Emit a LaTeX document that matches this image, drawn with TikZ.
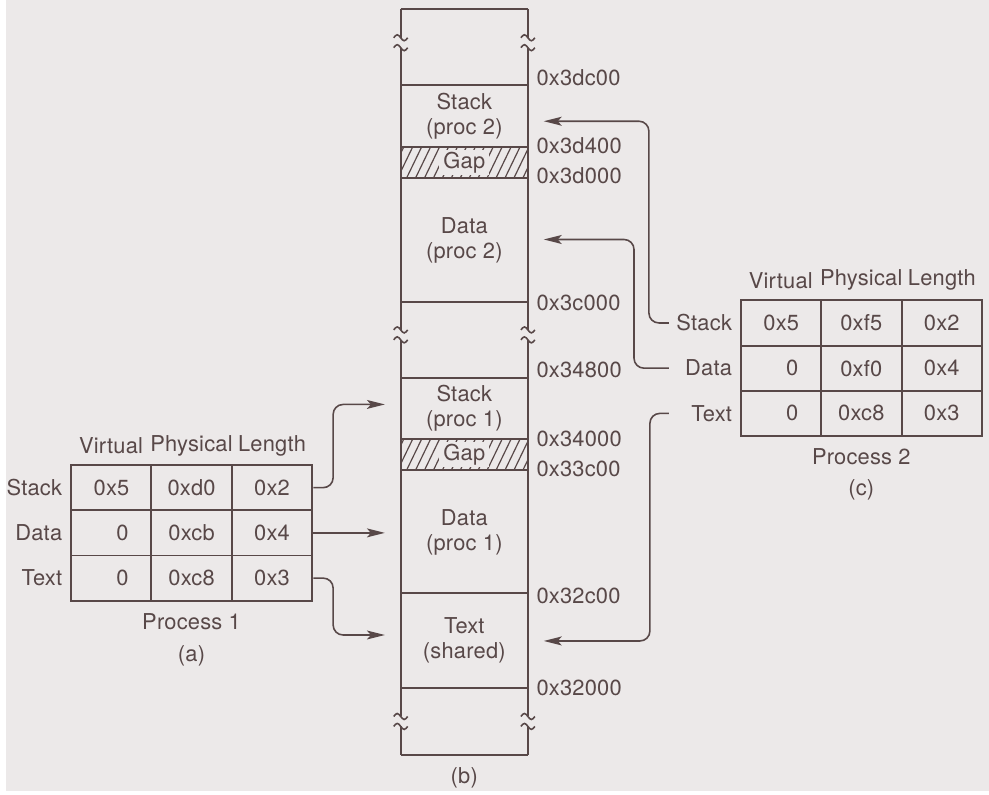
\documentclass[tikz,border=0pt]{standalone}
\usepackage{fontspec}
\setmainfont{TeX Gyre Heros}[LetterSpace=1]
\usetikzlibrary{arrows.meta}
\definecolor{ink}{RGB}{88,72,72}
\definecolor{paper}{RGB}{236,233,233}

\begin{document}
\begin{tikzpicture}[x=0.5pt, y=-0.5pt, color=ink, line width=1pt,
	every node/.style={font=\fontsize{11}{12.5}\selectfont, text=ink},
	cell/.style={draw, minimum width=40.5pt, minimum height=22.75pt, inner sep=0pt},
	vcell/.style={cell, text width=17.5pt, align=right, inner xsep=11.5pt},
	seg/.style={align=center},
	addr/.style={anchor=west},
	conn/.style={line width=0.8pt, rounded corners=5pt, -{Stealth[length=9pt,width=4.5pt,inset=2pt]}},
	hatch/.style={line width=0.6pt}]
	
	% Paper
	\fill[paper] (0,0) rectangle (989,796);
	
	% Gaps (hatched)
	\foreach \t/\b in {148/179,442/473} {
		\begin{scope}
			\clip (397,\t) rectangle (525,\b);
			\foreach \x in {376,385,...,530}
			\draw[hatch] (\x,\b) -- (\x+15,\t);
		\end{scope}
	}
	\node[fill=paper, inner xsep=2pt, inner ysep=1pt] (gap2) at (461,163.5) {Gap};
	\node[fill=paper, inner xsep=2pt, inner ysep=1pt] (gap1) at (461,457.5) {Gap};
	
	% Memory column
	\draw (397,9) -- (525,9);
	\draw (397,760) -- (525,760);
	\draw (397,9) -- (397,760);
	\draw (525,9) -- (525,760);
	\foreach \y in {86,148,179,304,380,442,473,597,692}
	\draw (397,\y) -- (525,\y);
	
	% Breaks
	\foreach \y in {43,337,726}
	\foreach \x in {397,525} {
		\fill[paper] (\x-3,\y-5) rectangle (\x+3,\y+5);
		\draw[line width=0.8pt] (\x-7,\y-5) sin (\x-3.5,\y-8) cos (\x,\y-5) sin (\x+3.5,\y-2) cos (\x+7,\y-5);
		\draw[line width=0.8pt] (\x-7,\y+5) sin (\x-3.5,\y+2) cos (\x,\y+5) sin (\x+3.5,\y+8) cos (\x+7,\y+5);
	}
	
	% Segments
	\node[seg] (stk2) at (461,117) {Stack\\(proc 2)};
	\node[seg] (dat2) at (461,242) {Data\\(proc 2)};
	\node[seg] (stk1) at (461,411) {Stack\\(proc 1)};
	\node[seg] (dat1) at (461,536) {Data\\(proc 1)};
	\node[seg] (txt) at (461,644) {Text\\(shared)};
	\node (cap-b) at (461,783) {(b)};
	
	% Addresses
	\node[addr] (a3dc00) at (526,78) {0x3dc00};
	\node[addr] (a3d400) at (526,147) {0x3d400};
	\node[addr] (a3d000) at (526,177) {0x3d000};
	\node[addr] (a3c000) at (526,305) {0x3c000};
	\node[addr] (a34800) at (526,372) {0x34800};
	\node[addr] (a34000) at (526,442) {0x34000};
	\node[addr] (a33c00) at (526,472) {0x33c00};
	\node[addr] (a32c00) at (526,600) {0x32c00};
	\node[addr] (a32000) at (526,692) {0x32000};
	
	% Process 1 table
	\node (p1-hv) at (105.5,449) {Virtual};
	\node (p1-hp) at (186.5,449) {Physical};
	\node (p1-hl) at (267.5,449) {Length};
	
	\node[vcell] (p1-sv) at (105.5,490.75) {0x5};
	\node[cell] (p1-sp) at (186.5,490.75) {0xd0};
	\node[cell] (p1-sl) at (267.5,490.75) {0x2};
	\node[vcell] (p1-dv) at (105.5,536.25) {0};
	\node[cell] (p1-dp) at (186.5,536.25) {0xcb};
	\node[cell] (p1-dl) at (267.5,536.25) {0x4};
	\node[vcell] (p1-tv) at (105.5,581.75) {0};
	\node[cell] (p1-tp) at (186.5,581.75) {0xc8};
	\node[cell] (p1-tl) at (267.5,581.75) {0x3};
	
	\node[anchor=east] (p1-s) at (p1-sv.west) {Stack};
	\node[anchor=east] (p1-d) at (p1-dv.west) {Data};
	\node[anchor=east] (p1-t) at (p1-tv.west) {Text};
	
	\node (p1) at (186.5,626) {Process 1};
	\node (cap-a) at (186.5,660) {(a)};
	
	% Process 2 table
	\node (p2-hv) at (779.5,282) {Virtual};
	\node (p2-hp) at (860.5,282) {Physical};
	\node (p2-hl) at (941.5,282) {Length};
	
	\node[vcell] (p2-sv) at (779.5,325) {0x5};
	\node[cell] (p2-sp) at (860.5,325) {0xf5};
	\node[cell] (p2-sl) at (941.5,325) {0x2};
	\node[vcell] (p2-dv) at (779.5,370.5) {0};
	\node[cell] (p2-dp) at (860.5,370.5) {0xf0};
	\node[cell] (p2-dl) at (941.5,370.5) {0x4};
	\node[vcell] (p2-tv) at (779.5,416) {0};
	\node[cell] (p2-tp) at (860.5,416) {0xc8};
	\node[cell] (p2-tl) at (941.5,416) {0x3};
	
	\node[anchor=east] (p2-s) at (p2-sv.west) {Stack};
	\node[anchor=east] (p2-d) at (p2-dv.west) {Data};
	\node[anchor=east] (p2-t) at (p2-tv.west) {Text};
	
	\node (p2) at (860.5,460) {Process 2};
	\node (cap-c) at (860.5,493) {(c)};
	
	% Arrow ends at the column
	\coordinate (in-s1) at (381,407);
	\coordinate (in-d1) at (381,536.25);
	\coordinate (in-t1) at (381,639);
	\coordinate (in-s2) at (541,122);
	\coordinate (in-d2) at (541,241);
	\coordinate (in-t2) at (541,645);
	
	% Mappings
	\draw[conn] (p1-sl.east) -- ++(20,0) |- (in-s1);
	\draw[conn] (p1-dl.east) -- (in-d1);
	\draw[conn] (p1-tl.east) -- ++(20,0) |- (in-t1);
	
	\draw[conn] (p2-s.west) -- ++(-20,0) |- (in-s2);
	\draw[conn] (p2-d -| p2-s.west) -- ++(-35,0) |- (in-d2);
	\draw[conn] (p2-t -| p2-s.west) -- ++(-19,0) |- (in-t2);
	
\end{tikzpicture}
\end{document}
